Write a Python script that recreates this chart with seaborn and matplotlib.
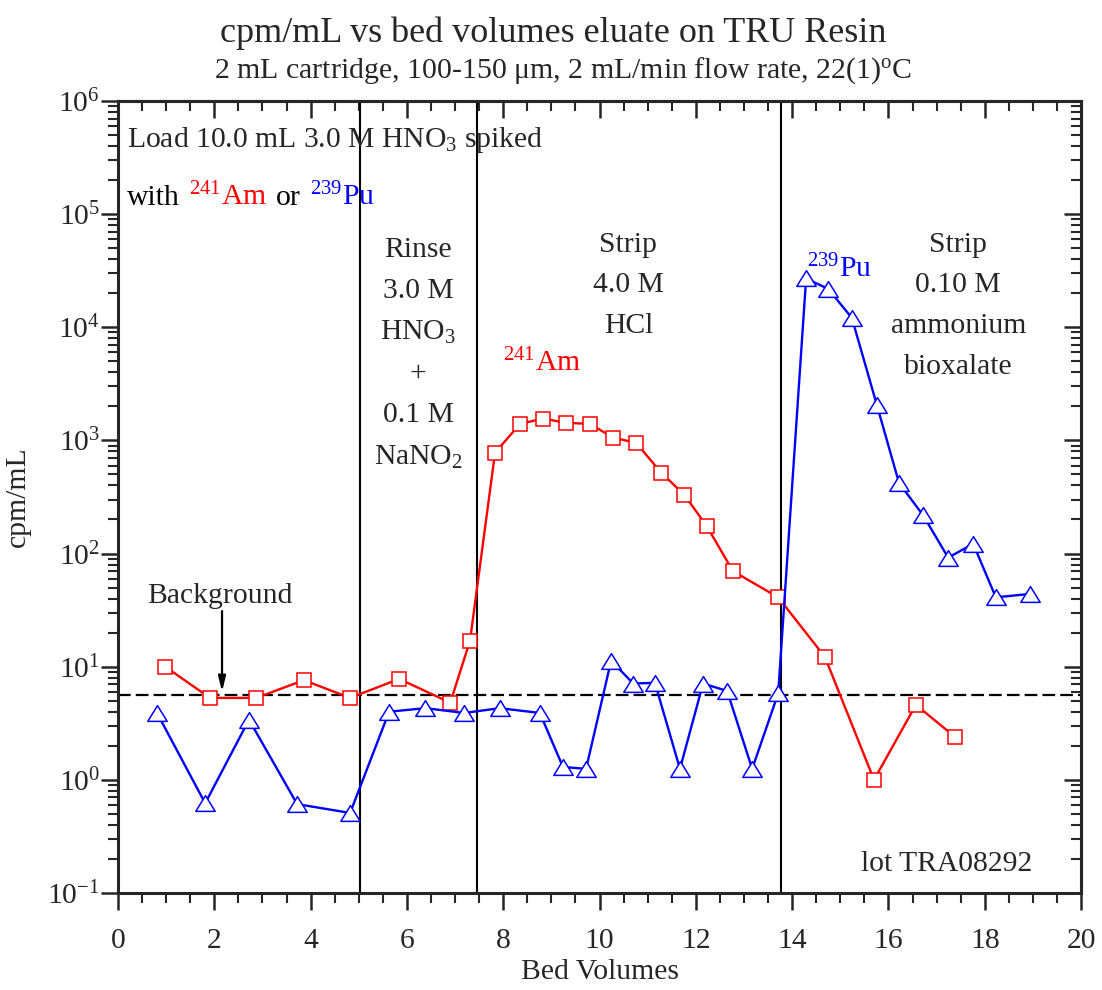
import matplotlib
matplotlib.use("Agg")
import pandas as pd
import matplotlib.pyplot as plt
import seaborn as sns
from matplotlib.path import Path
from matplotlib.ticker import MultipleLocator, LogLocator, NullFormatter
from matplotlib.offsetbox import TextArea, HPacker, AnchoredOffsetbox

# Am-241 (red squares)
am_bv = [0.98, 1.91, 2.87, 3.86, 4.82, 5.84, 6.90, 7.31, 7.83, 8.35, 8.83, 9.30,
         9.80, 10.28, 10.76, 11.28, 11.76, 12.23, 12.77, 13.71, 14.68, 15.70, 16.57, 17.38]
am_cpm = [10, 5.3, 5.3, 7.6, 5.3, 7.8, 4.8, 17, 780, 1400, 1560, 1430,
          1400, 1060, 950, 520, 330, 174, 70, 41, 12.2, 1.0, 4.6, 2.4]

# Pu-239 (blue triangles)
pu_bv = [0.81, 1.81, 2.72, 3.72, 4.82, 5.63, 6.38, 7.19, 7.93, 8.76, 9.24, 9.72,
         10.24, 10.70, 11.15, 11.67, 12.15, 12.65, 13.17, 13.71, 14.29, 14.75, 15.24,
         15.76, 16.22, 16.72, 17.24, 17.76, 18.23, 18.94]
pu_cpm = [3.9, 0.62, 3.4, 0.61, 0.51, 4.0, 4.3, 3.9, 4.3, 3.9, 1.3, 1.25,
          11.3, 7.1, 7.2, 1.25, 7.1, 6.1, 1.25, 5.8, 27000, 21800, 12100,
          2050, 420, 218, 92, 122, 41, 44]

background = 5.6
step_bv = [5.02, 7.46, 13.76]

am = pd.DataFrame({"bv": am_bv, "cpm": am_cpm})
pu = pd.DataFrame({"bv": pu_bv, "cpm": pu_cpm})

sns.set_style("ticks")
plt.rcParams["font.family"] = ["Liberation Serif", "DejaVu Serif"]
plt.rcParams["mathtext.fontset"] = "custom"
plt.rcParams["mathtext.rm"] = "Liberation Serif"
plt.rcParams["mathtext.it"] = "Liberation Serif:italic"
plt.rcParams["mathtext.bf"] = "Liberation Serif:bold"
plt.rcParams["axes.unicode_minus"] = False

fs = 21.3

# flattened triangle like the original plotting program
tri = Path([(-1, -0.81), (1, -0.81), (0, 0.81), (0, 0)], closed=True)

fig = plt.figure(figsize=(11.02, 9.9), dpi=100)
ax = fig.add_axes([0.1071, 0.098, 0.8739, 0.8])

for xv in step_bv:
    ax.axvline(xv, color="black", lw=1.5, zorder=1)
ax.axhline(background, color="black", lw=1.6, ls=(0, (5.7, 2.3)), zorder=1)

sns.lineplot(data=am, x="bv", y="cpm", ax=ax, color="red", lw=1.7, marker="s",
             ms=10, mfc="white", mec="red", mew=1.1, estimator=None, sort=False, zorder=3)
sns.lineplot(data=pu, x="bv", y="cpm", ax=ax, color="blue", lw=1.7, marker=tri,
             ms=14, mfc="white", mec="blue", mew=1.1, estimator=None, sort=False, zorder=3)

ax.set_yscale("log")
ax.set_xlim(0, 20)
ax.set_ylim(0.1, 1e6)
ax.xaxis.set_major_locator(MultipleLocator(2))
ax.xaxis.set_minor_locator(MultipleLocator(0.5))
ax.yaxis.set_major_locator(LogLocator(base=10, numticks=20))
ax.yaxis.set_minor_locator(LogLocator(base=10, subs=range(2, 10), numticks=20))
ax.yaxis.set_minor_formatter(NullFormatter())

for s in ax.spines.values():
    s.set_linewidth(2.2)
ax.tick_params(which="major", direction="out", length=12, width=1.8, labelsize=fs)
ax.tick_params(which="minor", direction="out", length=7, width=1.5)
ax.tick_params(axis="x", which="major", pad=13)
ax.tick_params(axis="y", which="major", pad=1)

# mirrored ticks pointing inward on top and right
top = ax.secondary_xaxis("top")
top.xaxis.set_major_locator(MultipleLocator(2))
top.xaxis.set_minor_locator(MultipleLocator(0.5))
top.xaxis.set_minor_formatter(NullFormatter())
top.tick_params(which="major", direction="in", length=12, width=1.8, labeltop=False)
top.tick_params(which="minor", direction="in", length=7, width=1.5)
right = ax.secondary_yaxis("right")
right.yaxis.set_major_locator(LogLocator(base=10, numticks=20))
right.yaxis.set_minor_locator(LogLocator(base=10, subs=range(2, 10), numticks=20))
right.yaxis.set_minor_formatter(NullFormatter())
right.tick_params(which="major", direction="in", length=12, width=1.8, labelright=False)
right.tick_params(which="minor", direction="in", length=7, width=1.5, labelright=False)
for sec in (top, right):
    for s in sec.spines.values():
        s.set_linewidth(2.2)

ax.set_xlabel("Bed Volumes", fontsize=fs, labelpad=4)
ax.set_ylabel("cpm/mL", fontsize=fs, labelpad=12)

fig.text(0.502, 0.958, "cpm/mL vs bed volumes eluate on TRU Resin", ha="center",
         va="baseline", fontsize=26)
fig.text(0.511, 0.922, r"2 mL cartridge, 100-150 μm, 2 mL/min flow rate, 22(1)$^\mathrm{o}$C",
         ha="center", va="baseline", fontsize=21.5)

# annotations
ax.text(0.0093, 0.9423, r"Load 10.0 mL 3.0 M HNO$_3$ spiked", transform=ax.transAxes,
        fontsize=fs, ha="left", va="baseline")
legend_row = HPacker(children=[
    TextArea("with", textprops=dict(fontsize=fs, color="black")),
    TextArea(r"$^{241}$Am", textprops=dict(fontsize=fs, color="red")),
    TextArea("or", textprops=dict(fontsize=fs, color="black")),
    TextArea(r"$^{239}$Pu", textprops=dict(fontsize=fs, color="blue")),
], align="baseline", pad=0, sep=6.5)
ax.add_artist(AnchoredOffsetbox(loc="upper left", child=legend_row, pad=0, borderpad=0,
                                frameon=False, bbox_to_anchor=(0.0093, 0.897),
                                bbox_transform=ax.transAxes))

ax.text(6.23, 6.3e4, "Rinse\n3.0 M\nHNO$_3$\n+\n0.1 M\nNaNO$_2$", fontsize=fs,
        ha="center", va="top", linespacing=1.74)
ax.text(10.6, 7.0e4, "Strip\n4.0 M\nHCl", fontsize=fs, ha="center", va="top",
        linespacing=1.74)
ax.text(17.45, 7.0e4, "Strip\n0.10 M\nammonium\nbioxalate", fontsize=fs, ha="center",
        va="top", linespacing=1.74)
ax.text(8.81, 10 ** 3.61, r"$^{241}$Am", color="red", fontsize=fs, ha="center", va="baseline")
ax.text(14.31, 10 ** 4.44, r"$^{239}$Pu", color="blue", fontsize=fs, ha="left", va="baseline")

ax.annotate("", xy=(2.16, 6.0), xytext=(2.16, 31),
            arrowprops=dict(arrowstyle="-|>,head_length=0.9,head_width=0.22",
                            color="black", lw=1.6, shrinkA=0, shrinkB=0))
ax.text(0.6, 36.7, "Background", fontsize=fs, ha="left", va="baseline")
ax.text(0.949, 0.028, "lot TRA08292", transform=ax.transAxes, fontsize=fs,
        ha="right", va="baseline")

fig.savefig("out.png", dpi=100)
